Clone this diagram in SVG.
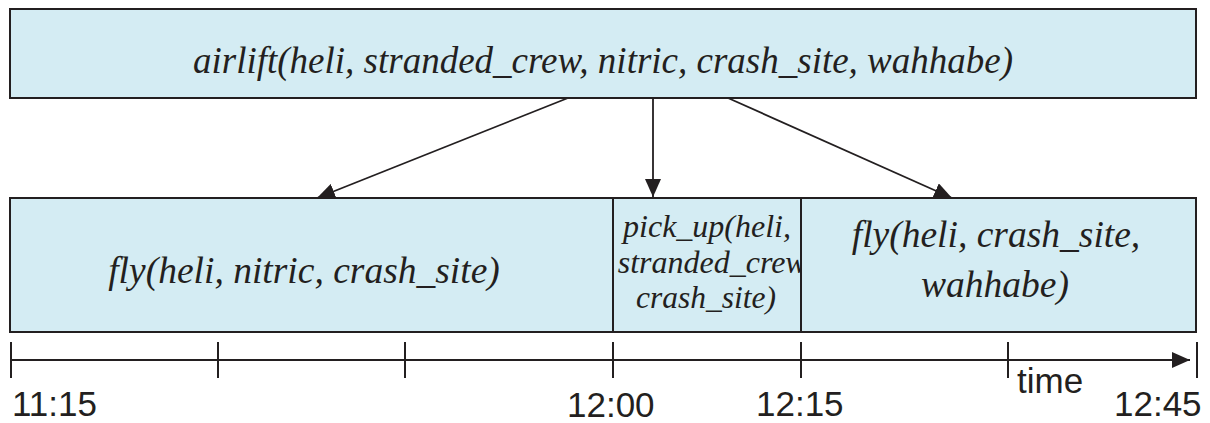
<svg xmlns="http://www.w3.org/2000/svg" width="1210" height="423" viewBox="0 0 1210 423">
  <defs>
    <style>
      .box { fill: #d4ecf3; stroke: #231f20; stroke-width: 2; }
      .task { font-family: "Liberation Serif", "Times New Roman", serif; font-style: italic; fill: #231f20; text-anchor: middle; }
      .edge { stroke: #231f20; stroke-width: 1.8; fill: none; }
      .axis { stroke: #231f20; stroke-width: 2; fill: none; }
      .lbl { font-family: "Liberation Sans", Arial, sans-serif; fill: #231f20; font-size: 35px; }
    </style>
    <marker id="head" markerUnits="userSpaceOnUse" markerWidth="20" markerHeight="16" refX="18" refY="8" orient="auto">
      <path d="M0,0 L18,8 L0,16 Z" fill="#231f20"/>
    </marker>
  </defs>

  <!-- parent task -->
  <g id="airlift">
    <rect class="box" x="10" y="9" width="1186" height="89"/>
    <text class="task" x="603" y="73" font-size="37">airlift(heli, stranded_crew, nitric, crash_site, wahhabe)</text>
  </g>

  <!-- subtasks -->
  <g id="fly1">
    <rect class="box" x="10" y="198" width="603" height="134"/>
    <text class="task" x="304" y="283" font-size="37.5">fly(heli, nitric, crash_site)</text>
  </g>
  <g id="pick_up">
    <rect class="box" x="613" y="198" width="188" height="134"/>
    <text class="task" x="707" y="237" font-size="32">pick_up(heli,</text>
    <text class="task" x="715" y="273" font-size="32">stranded_crew,</text>
    <text class="task" x="706" y="308" font-size="31.5">crash_site)</text>
  </g>
  <!-- drawn last so it covers the overflow of the middle label -->
  <g id="fly2">
    <rect class="box" x="801" y="198" width="395" height="134"/>
    <text class="task" x="996" y="247" font-size="37.5">fly(heli, crash_site,</text>
    <text class="task" x="995" y="297" font-size="37.5">wahhabe)</text>
  </g>

  <!-- decomposition arrows -->
  <g id="connectors">
    <line class="edge" x1="568" y1="98" x2="317" y2="198" marker-end="url(#head)"/>
    <line class="edge" x1="653" y1="98" x2="653" y2="197" marker-end="url(#head)"/>
    <line class="edge" x1="728" y1="98" x2="952" y2="198" marker-end="url(#head)"/>
  </g>

  <!-- time axis -->
  <g id="timeline">
    <line class="axis" x1="11" y1="360" x2="1190" y2="360" marker-end="url(#head)"/>
    <g class="axis">
      <line x1="11" y1="342" x2="11" y2="378"/>
      <line x1="218" y1="342" x2="218" y2="378"/>
      <line x1="405" y1="342" x2="405" y2="378"/>
      <line x1="613" y1="342" x2="613" y2="378"/>
      <line x1="801" y1="342" x2="801" y2="378"/>
      <line x1="1008" y1="342" x2="1008" y2="378"/>
      <line x1="1197" y1="342" x2="1197" y2="378"/>
    </g>
    <text class="lbl" x="12" y="416">11:15</text>
    <text class="lbl" x="567" y="417">12:00</text>
    <text class="lbl" x="756" y="416">12:15</text>
    <text class="lbl" x="1114" y="416">12:45</text>
    <text class="lbl" x="1017" y="393" font-size="34">time</text>
  </g>
</svg>
